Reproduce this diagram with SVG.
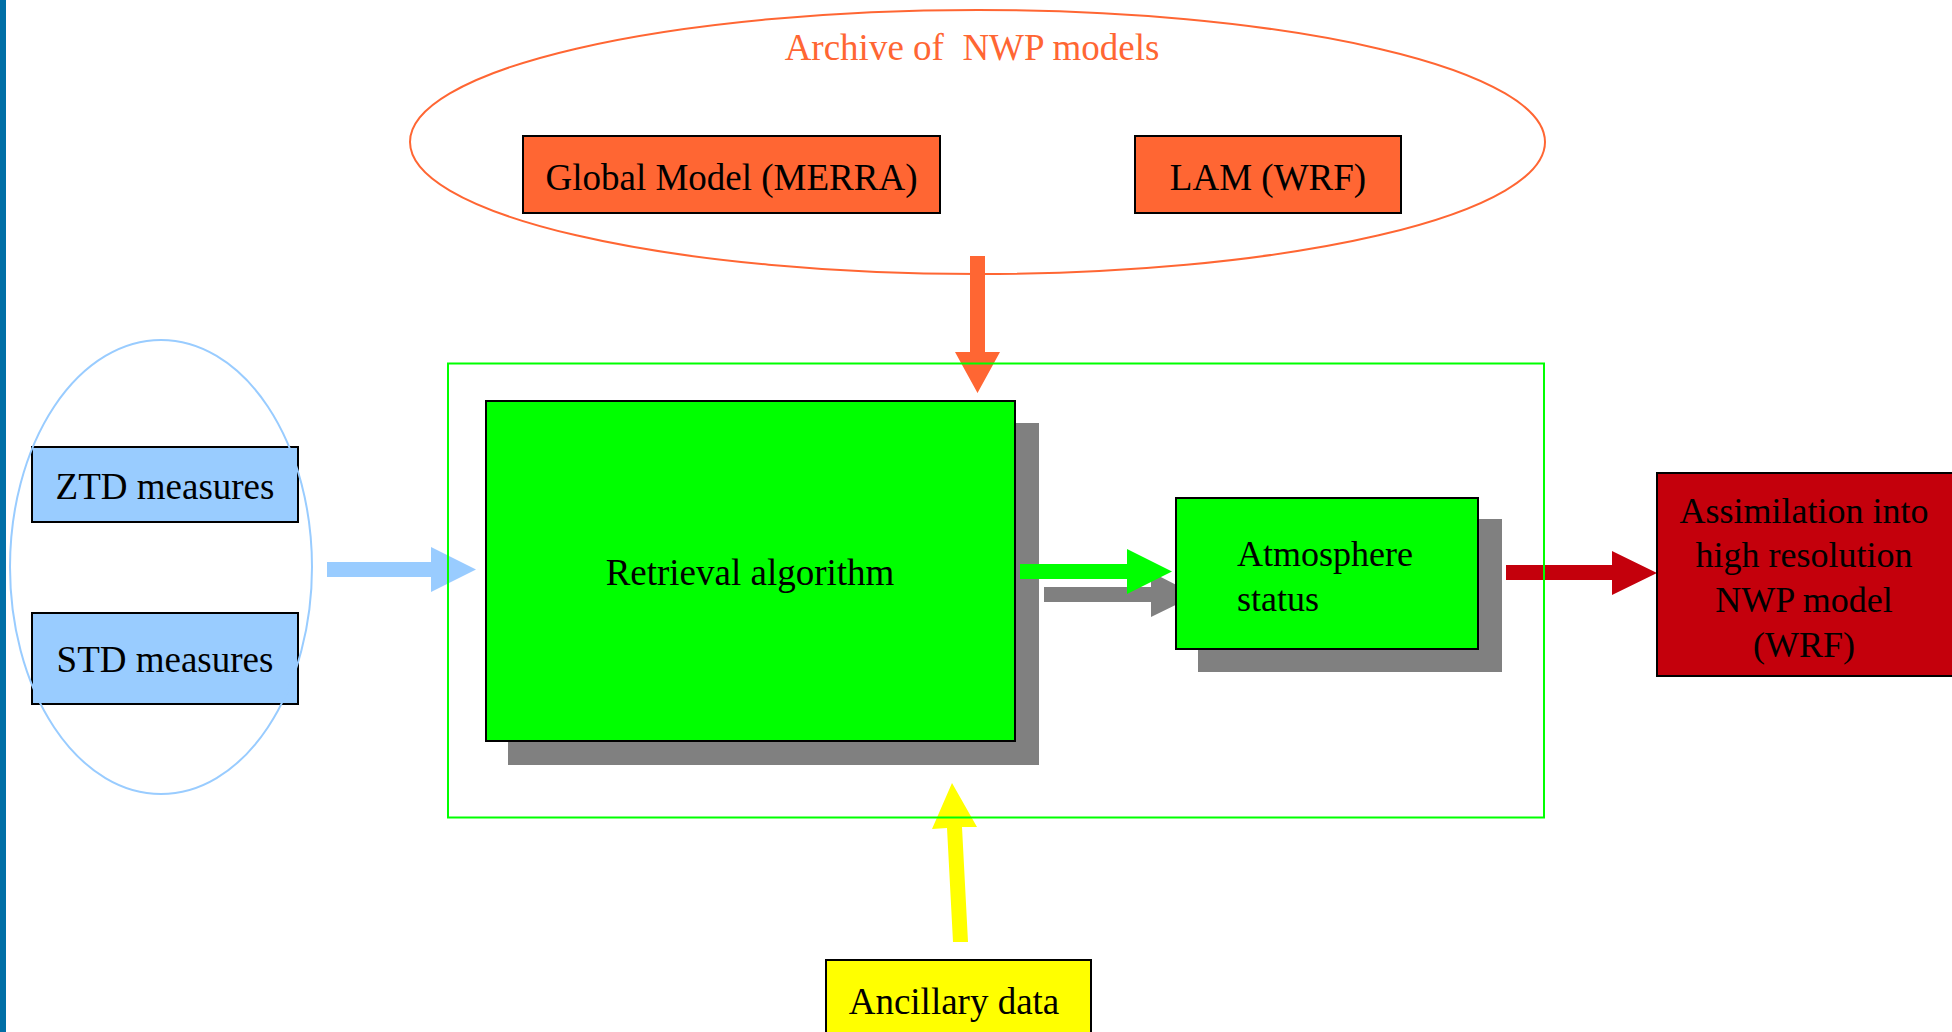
<svg xmlns="http://www.w3.org/2000/svg" width="1952" height="1032" viewBox="0 0 1952 1032">
<style>
.t{font-family:"Liberation Serif","Times New Roman",serif;font-size:37px;fill:#000}
.m{text-anchor:middle}
.box{stroke:#000;stroke-width:2}
.sh{fill:#808080}
</style>
<rect x="0" y="0" width="1952" height="1032" fill="#fff"/>
<rect x="0" y="0" width="6" height="1032" fill="#006FA6"/>

<g id="archive">
  <ellipse cx="977.5" cy="142" rx="567.5" ry="132" fill="none" stroke="#FF6633" stroke-width="2"/>
  <text class="t m" x="972" y="60" fill="#FF6633" style="fill:#FF6633" xml:space="preserve">Archive of  NWP models</text>
</g>
<g id="global-model">
  <rect class="box" x="523" y="136" width="417" height="77" fill="#FF6633"/>
  <text class="t m" x="731.5" y="190">Global Model (MERRA)</text>
</g>
<g id="lam">
  <rect class="box" x="1135" y="136" width="266" height="77" fill="#FF6633"/>
  <text class="t m" x="1268" y="190">LAM (WRF)</text>
</g>

<g id="ztd">
  <rect class="box" x="32" y="447" width="266" height="75" fill="#99CCFF"/>
  <text class="t m" x="165" y="499">ZTD measures</text>
</g>
<g id="std">
  <rect class="box" x="32" y="613" width="266" height="91" fill="#99CCFF"/>
  <text class="t m" x="165" y="672">STD measures</text>
</g>
<g id="measures-group">
  <ellipse cx="161" cy="567" rx="151" ry="227" fill="none" stroke="#99CCFF" stroke-width="2"/>
</g>

<g id="retrieval">
  <rect class="sh" x="508" y="423" width="531" height="342"/>
  <rect class="box" x="486" y="401" width="529" height="340" fill="#00FF00"/>
  <text class="t m" x="750" y="585">Retrieval algorithm</text>
</g>

<g id="connectors">
  <polygon fill="#FF6633" points="970,256 985,256 985,352 1000,352 977.5,393 955,352 970,352"/>
  <polygon fill="#99CCFF" points="327,562 431,562 431,547 476,569.5 431,592 431,577 327,577"/>
  <polygon fill="#808080" points="1044,587 1151,587 1151,572 1196,595 1151,617 1151,602 1044,602"/>
  <polygon fill="#00FF00" points="1020,564 1127,564 1127,549 1172,571.5 1127,594 1127,579 1020,579"/>
  <polygon fill="#C4000C" points="1506,565 1612,565 1612,551 1657,573 1612,595 1612,580 1506,580"/>
  <polygon fill="#FFFF00" points="953,942 968,942 962,827 977,827 952,783 932,829 947,828"/>
</g>

<g id="atmosphere">
  <rect class="sh" x="1198" y="519" width="304" height="153"/>
  <rect class="box" x="1176" y="498" width="302" height="151" fill="#00FF00"/>
  <text class="t" x="1237" y="566" style="font-size:36px">Atmosphere</text>
  <text class="t" x="1237" y="611" style="font-size:36px">status</text>
</g>

<g id="processing">
  <rect x="448" y="363.5" width="1096" height="454" fill="none" stroke="#00FF00" stroke-width="2"/>
</g>

<g id="assimilation">
  <rect class="box" x="1657" y="473" width="305" height="203" fill="#C4000C"/>
  <text class="t m" x="1804" y="523" style="font-size:36px">Assimilation into</text>
  <text class="t m" x="1804" y="567" style="font-size:36px">high resolution</text>
  <text class="t m" x="1804" y="612" style="font-size:36px">NWP model</text>
  <text class="t m" x="1804" y="657" style="font-size:36px">(WRF)</text>
</g>

<g id="ancillary">
  <rect class="box" x="826" y="960" width="265" height="80" fill="#FFFF00"/>
  <text class="t m" x="954" y="1014">Ancillary data</text>
</g>
</svg>
